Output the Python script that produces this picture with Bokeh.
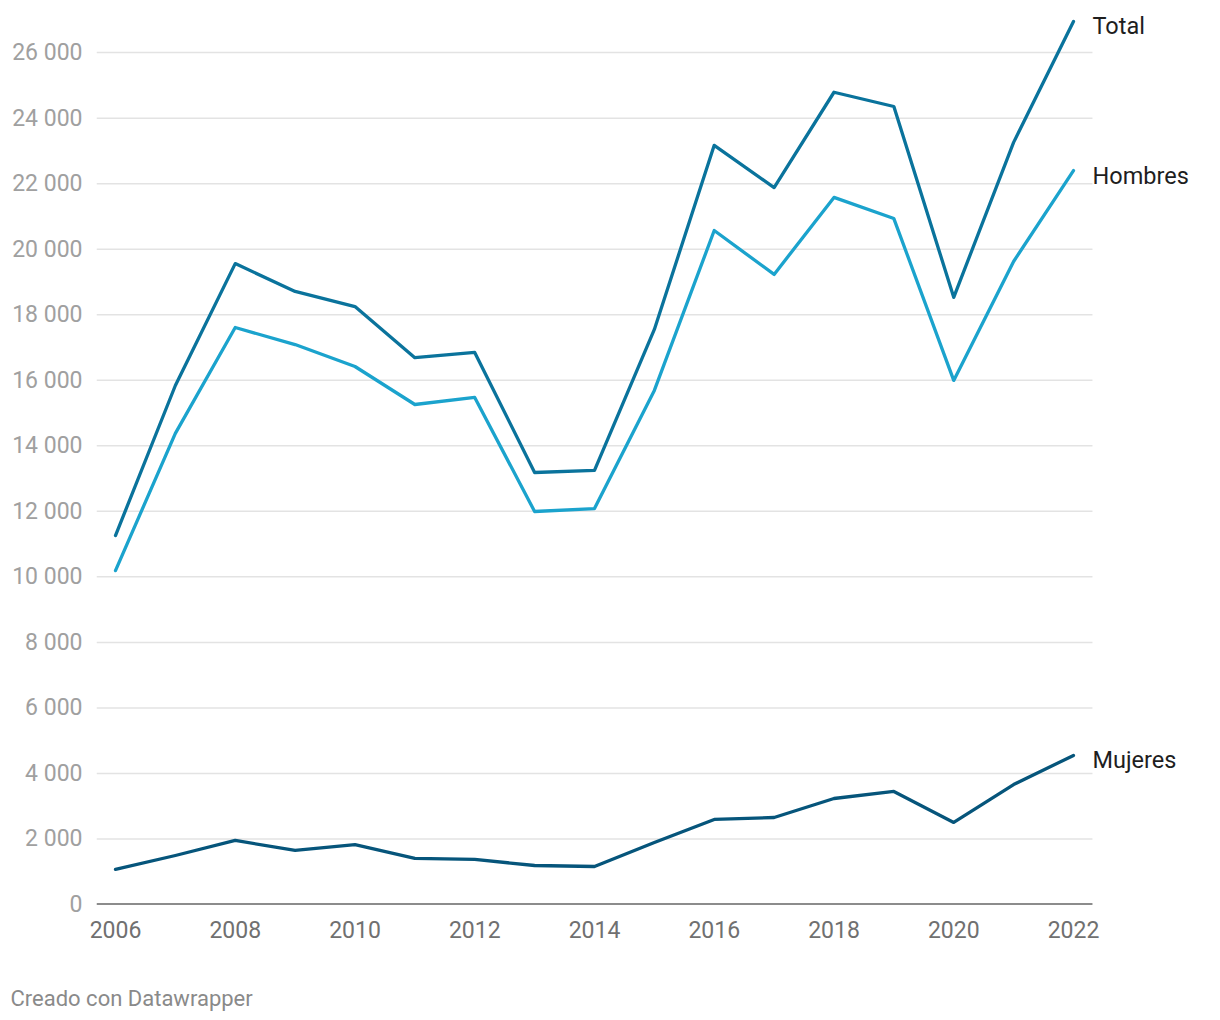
from bokeh.plotting import figure
from bokeh.models import Range1d, FixedTicker, CustomJSTickFormatter, ColumnDataSource, Title
from bokeh.core.properties import value
from bokeh.embed import file_html
from bokeh.resources import INLINE

years = list(range(2006, 2023))
total = [11260, 15840, 19560, 18710, 18250, 16690, 16850, 13185, 13250, 17550,
         23170, 21880, 24790, 24355, 18530, 23260, 26950]
hombres = [10190, 14380, 17610, 17090, 16420, 15260, 15475, 11995, 12085, 15690,
           20570, 19230, 21580, 20935, 15995, 19625, 22400]
mujeres = [1070, 1495, 1955, 1650, 1830, 1405, 1375, 1190, 1160, 1890,
           2595, 2655, 3235, 3450, 2505, 3660, 4550]
series_names = ["Total", "Hombres", "Mujeres"]
series_values = [total, hombres, mujeres]
colors = ["#0a739c", "#1ba3cd", "#06557b"]
y_ticks = list(range(0, 26001, 2000))
x_ticks = list(range(2006, 2023, 2))

FONT = "Roboto"
X0, X1 = 2005.683, 2022.317          # extent of the plotted area (grid / baseline)
XEND = X0 + 1116 / 59.875            # frame extends to canvas edge to hold labels

p = figure(width=1212, height=1018, output_backend="svg", toolbar_location=None,
           x_range=Range1d(X0, XEND), y_range=Range1d(0, 27285),
           min_border_left=96, min_border_right=0, min_border_top=10, min_border_bottom=114,
           background_fill_color="white", border_fill_color="white")
p.outline_line_color = None

p.xgrid.grid_line_color = None
p.ygrid.grid_line_color = None
p.segment(x0=[X0] * (len(y_ticks) - 1), x1=[X1] * (len(y_ticks) - 1),
          y0=y_ticks[1:], y1=y_ticks[1:], line_color="#e3e3e3", line_width=1.5)
p.segment(x0=[X0], x1=[X1], y0=[0], y1=[0], line_color="#1a1a1a", line_width=2.2)

p.yaxis.ticker = FixedTicker(ticks=y_ticks)
p.xaxis.ticker = FixedTicker(ticks=x_ticks)
p.yaxis.formatter = CustomJSTickFormatter(code="""
return Math.round(tick).toString().replace(/\\B(?=(\\d{3})+(?!\\d))/g, " ");
""")
p.yaxis.axis_line_color = None
p.yaxis.major_tick_line_color = None
p.yaxis.minor_tick_line_color = None
p.yaxis.major_label_text_font = FONT
p.yaxis.major_label_text_font_size = "23px"
p.yaxis.major_label_text_color = "#a0a0a0"
p.yaxis.major_label_standoff = 8

p.xaxis.axis_line_color = None
p.xaxis.major_tick_line_color = None
p.xaxis.minor_tick_line_color = None
p.xaxis.major_label_text_font = FONT
p.xaxis.major_label_text_font_size = "23px"
p.xaxis.major_label_text_color = "#707070"
p.xaxis.major_label_standoff = 10

for name, vals, col in zip(series_names, series_values, colors):
    p.line(years, vals, line_color=col, line_width=3.3, line_join="round", line_cap="round")

src = ColumnDataSource(dict(x=[years[-1]] * 3, y=[v[-1] for v in series_values], t=series_names))
p.text(x="x", y="y", text="t", source=src, x_offset=19, y_offset=5,
       text_font=value(FONT), text_font_size="23.5px", text_color="#1e1e1e",
       text_baseline="middle", text_align="left")

spacer = Title(text=" ", standoff=8, text_font=FONT, text_font_size="22px", text_color="#ffffff")
p.add_layout(spacer, "below")
footer = Title(text="Creado con Datawrapper", align="left", offset=-86, standoff=16,
               text_font=FONT, text_font_size="22px", text_color="#8a8a8a",
               text_font_style="normal")
p.add_layout(footer, "below")

open("out.html", "w").write(file_html(p, INLINE))
